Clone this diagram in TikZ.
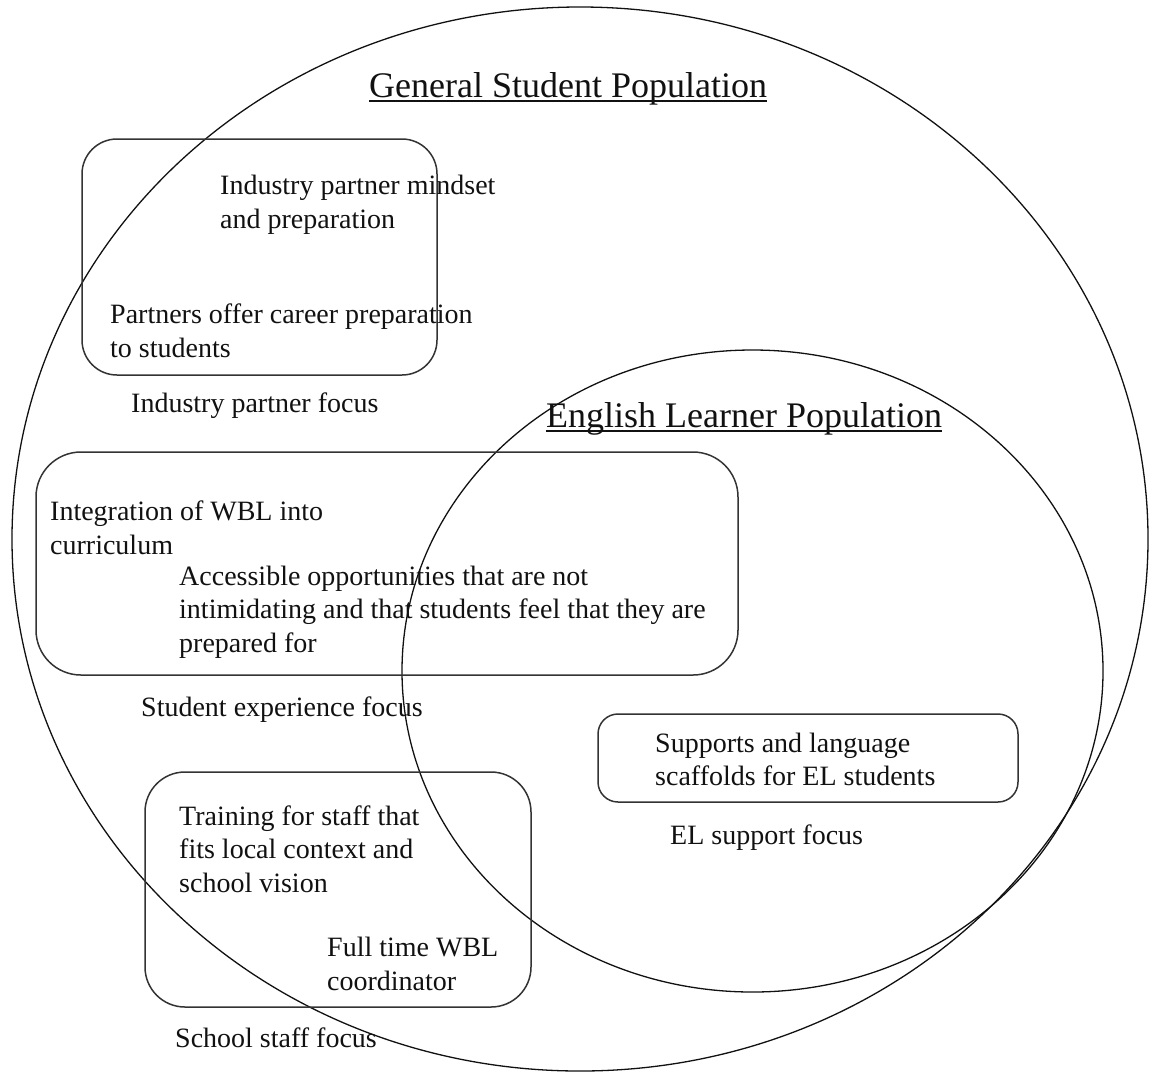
\documentclass[tikz,border=0pt]{standalone}
\usepackage{fontspec}
\setmainfont{Liberation Serif}
\usepackage{tikz}
\usetikzlibrary{shapes.geometric}
\definecolor{ink}{HTML}{111111}
\definecolor{rule}{HTML}{333333}
\tikzset{
  ring/.style={ellipse, draw=ink, line width=1.3pt, inner sep=0pt},
  panel/.style={rectangle, draw=rule, line width=1.5pt, inner sep=0pt},
  txt/.style={anchor=base west, align=left, inner sep=0pt, text=ink,
              font=\fontsize{28}{33.5}\selectfont},
  head/.style={txt, font=\fontsize{36}{43}\selectfont}
}
\newcommand{\popline}[1]{\setbox0\hbox{#1}\rlap{\rule[-5pt]{\wd0}{2.2pt}}\box0}

\begin{document}
\begin{tikzpicture}[x=1pt, y=-1pt]
  \useasboundingbox (0,0) rectangle (1150,1072);

  % population circles
  \node[ring, minimum width=1136pt, minimum height=1064pt] (genpop) at (580,539) {};
  \node[ring, minimum width=701pt, minimum height=642pt] (elpop) at (752.5,671) {};
  \node[head] (gentitle) at (369,97) {\popline{General Student Population}};
  \node[head] (eltitle) at (546,427) {\popline{English Learner Population}};

  % industry partner focus (multi-line text sits on its last baseline)
  \node[panel, rounded corners=35pt, minimum width=355pt, minimum height=236pt] (ipbox) at (259.5,257) {};
  \node[txt] (ipmind) at (220,228) {Industry partner mindset\\and preparation};
  \node[txt] (ipcareer) at (110,357) {Partners offer career preparation\\to students};
  \node[txt] (iplbl) at (131,412) {Industry partner focus};

  % student experience focus
  \node[panel, rounded corners=45pt, minimum width=702pt, minimum height=223pt] (sebox) at (387,563.5) {};
  \node[txt] (seint) at (50,554) {Integration of WBL into\\curriculum};
  \node[txt] (seacc) at (179,652) {Accessible opportunities that are not\\intimidating and that students feel that they are\\prepared for};
  \node[txt] (selbl) at (141,716) {Student experience focus};

  % EL support focus
  \node[panel, rounded corners=20pt, minimum width=420pt, minimum height=88pt] (elbox) at (808,758) {};
  \node[txt] (elsup) at (655,785.5) {Supports and language\\scaffolds for EL students};
  \node[txt] (ellbl) at (670,844) {EL support focus};

  % school staff focus
  \node[panel, rounded corners=40pt, minimum width=386pt, minimum height=235pt] (ssbox) at (338,889.5) {};
  \node[txt] (sstrain) at (179,892) {Training for staff that\\fits local context and\\school vision};
  \node[txt] (sscoord) at (327,990) {Full time WBL\\coordinator};
  \node[txt] (sslbl) at (175,1047) {School staff focus};
\end{tikzpicture}
\end{document}
